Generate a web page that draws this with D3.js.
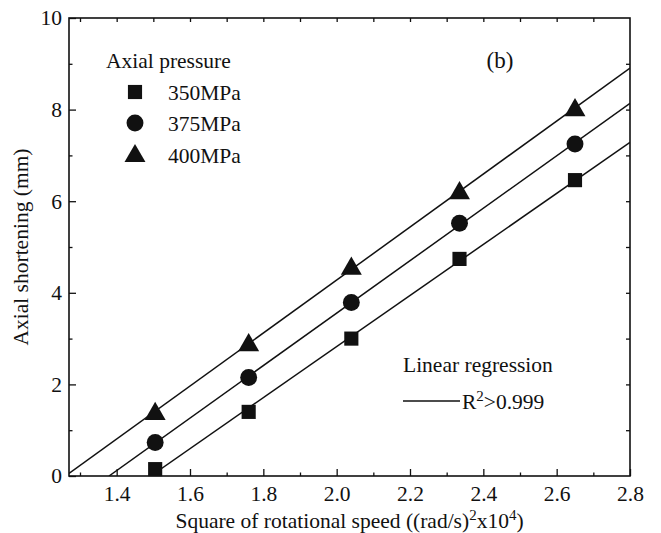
<!DOCTYPE html>
<html>
<head>
<meta charset="utf-8">
<script src="https://cdn.jsdelivr.net/npm/d3@7/dist/d3.min.js"></script>
<style>
  html, body { margin: 0; padding: 0; background: #fff; }
  svg { display: block; }
</style>
</head>
<body>
<svg id="chart" width="661" height="533"></svg>
<script>
// ---- data ----
const speedSq = [1.505, 1.76, 2.04, 2.335, 2.65];
const p350 = [0.15, 1.40, 3.00, 4.74, 6.46];
const p375 = [0.73, 2.15, 3.79, 5.52, 7.25];
const p400 = [1.39, 2.89, 4.56, 6.21, 8.02];
const seriesNames = ["350MPa", "375MPa", "400MPa"];
const xTickLabels = [1.4, 1.6, 1.8, 2.0, 2.2, 2.4, 2.6, 2.8];
const yTickLabels = [0, 2, 4, 6, 8, 10];
const xMinorTicks = [1.3, 1.4, 1.5, 1.6, 1.7, 1.8, 1.9, 2.0, 2.1, 2.2, 2.3, 2.4, 2.5, 2.6, 2.7];
const yMinorTicks = [1, 3, 5, 7, 9];

const FONT = "Liberation Serif";
const FS = 21.5;
const SUP = 15;
const svg = d3.select("#chart").attr("font-family", FONT);
const m = { left: 69, right: 31, top: 18, bottom: 57 };
const W = 661, H = 533;
const iw = W - m.left - m.right, ih = H - m.top - m.bottom;

const x = d3.scaleLinear().domain([1.27, 2.8]).range([m.left, m.left + iw]);
const y = d3.scaleLinear().domain([0, 10]).range([m.top + ih, m.top]);

svg.append("defs").append("clipPath").attr("id", "clip")
  .append("rect").attr("x", m.left).attr("y", m.top).attr("width", iw).attr("height", ih);

const fmtX = d3.format(".1f");
function styleAxis(g) {
  g.attr("font-family", FONT).attr("font-size", FS);
  g.select(".domain").remove();
  g.selectAll("line").attr("stroke", "#111").attr("stroke-width", 1.3);
  g.selectAll("text").attr("fill", "#111");
}

// bottom axis major
svg.append("g").attr("transform", `translate(0,${m.top + ih})`)
  .call(d3.axisBottom(x).tickValues(xTickLabels).tickFormat(fmtX).tickSizeInner(-7).tickSizeOuter(0).tickPadding(10))
  .call(styleAxis);
// bottom minor
svg.append("g").attr("transform", `translate(0,${m.top + ih})`)
  .call(d3.axisBottom(x).tickValues(xMinorTicks.filter(v => !xTickLabels.includes(v))).tickFormat("").tickSizeInner(-3.5).tickSizeOuter(0))
  .call(styleAxis);
// top axis
svg.append("g").attr("transform", `translate(0,${m.top})`)
  .call(d3.axisTop(x).tickValues(xMinorTicks).tickFormat("").tickSizeInner(-4).tickSizeOuter(0))
  .call(styleAxis);
// left axis
svg.append("g").attr("transform", `translate(${m.left},0)`)
  .call(d3.axisLeft(y).tickValues(yTickLabels).tickFormat(d3.format("d")).tickSizeInner(-7).tickSizeOuter(0).tickPadding(7))
  .call(styleAxis);
svg.append("g").attr("transform", `translate(${m.left},0)`)
  .call(d3.axisLeft(y).tickValues(yMinorTicks).tickFormat("").tickSizeInner(-3.5).tickSizeOuter(0))
  .call(styleAxis);
// right axis
svg.append("g").attr("transform", `translate(${m.left + iw},0)`)
  .call(d3.axisRight(y).tickValues(d3.range(1, 10)).tickFormat("").tickSizeInner(-4).tickSizeOuter(0))
  .call(styleAxis);

// frame
svg.append("rect").attr("x", m.left).attr("y", m.top).attr("width", iw).attr("height", ih)
  .attr("fill", "none").attr("stroke", "#111").attr("stroke-width", 1.6);

// regression lines
function linreg(xs, ys) {
  const mx = d3.mean(xs), my = d3.mean(ys);
  const sxy = d3.sum(xs, (v, i) => (v - mx) * (ys[i] - my));
  const sxx = d3.sum(xs, v => (v - mx) * (v - mx));
  const b = sxy / sxx;
  return { b, a: my - b * mx };
}
const allSeries = [p350, p375, p400];
const symbols = [d3.symbolSquare, d3.symbolCircle, d3.symbolTriangle];
const symSizes = [200, 225, 190];

const lineG = svg.append("g").attr("clip-path", "url(#clip)");
allSeries.forEach(ys => {
  const { a, b } = linreg(speedSq, ys);
  const x0 = Math.max(x.domain()[0], -a / b);
  const x1 = x.domain()[1];
  lineG.append("line")
    .attr("x1", x(x0)).attr("y1", y(a + b * x0))
    .attr("x2", x(x1)).attr("y2", y(a + b * x1))
    .attr("stroke", "#111").attr("stroke-width", 1.5);
});

// markers
allSeries.forEach((ys, si) => {
  svg.append("g").selectAll("path").data(ys).join("path")
    .attr("d", d3.symbol().type(symbols[si]).size(symSizes[si]))
    .attr("transform", (d, i) => `translate(${x(speedSq[i])},${y(d) + (si === 2 ? 1.5 : 0)})`)
    .attr("fill", "#111");
});

function txt(xp, yp, s, size) {
  return svg.append("text").attr("x", xp).attr("y", yp)
    .attr("font-family", FONT).attr("font-size", size || FS).attr("fill", "#111").text(s);
}

// legend
txt(106, 68, "Axial pressure");
const legY = [92, 123, 155];
seriesNames.forEach((n, i) => {
  svg.append("path").attr("d", d3.symbol().type(symbols[i]).size(symSizes[i]))
    .attr("transform", `translate(135,${legY[i] + (i === 2 ? 1 : 0)})`).attr("fill", "#111");
  txt(168, legY[i] + 7.5, n);
});

txt(500, 68, "(b)", 23).attr("text-anchor", "middle");

txt(403, 372, "Linear regression");
svg.append("line").attr("x1", 403).attr("x2", 460).attr("y1", 401).attr("y2", 401).attr("stroke", "#111").attr("stroke-width", 1.5);
const r2 = txt(462, 409, null);
r2.append("tspan").text("R");
r2.append("tspan").attr("font-size", SUP).attr("dy", -8).text("2");
r2.append("tspan").attr("dy", 8).text(">0.999");

// axis titles
const xt = txt(m.left + iw / 2, 528, null).attr("text-anchor", "middle");
xt.append("tspan").text("Square of rotational speed ((rad/s)");
xt.append("tspan").attr("font-size", SUP).attr("dy", -8).text("2");
xt.append("tspan").attr("dy", 8).text("x10");
xt.append("tspan").attr("font-size", SUP).attr("dy", -8).text("4");
xt.append("tspan").attr("dy", 8).text(")");

txt(0, 0, "Axial shortening (mm)")
  .attr("transform", `translate(28,${m.top + ih / 2}) rotate(-90)`)
  .attr("text-anchor", "middle");
</script>
</body>
</html>
